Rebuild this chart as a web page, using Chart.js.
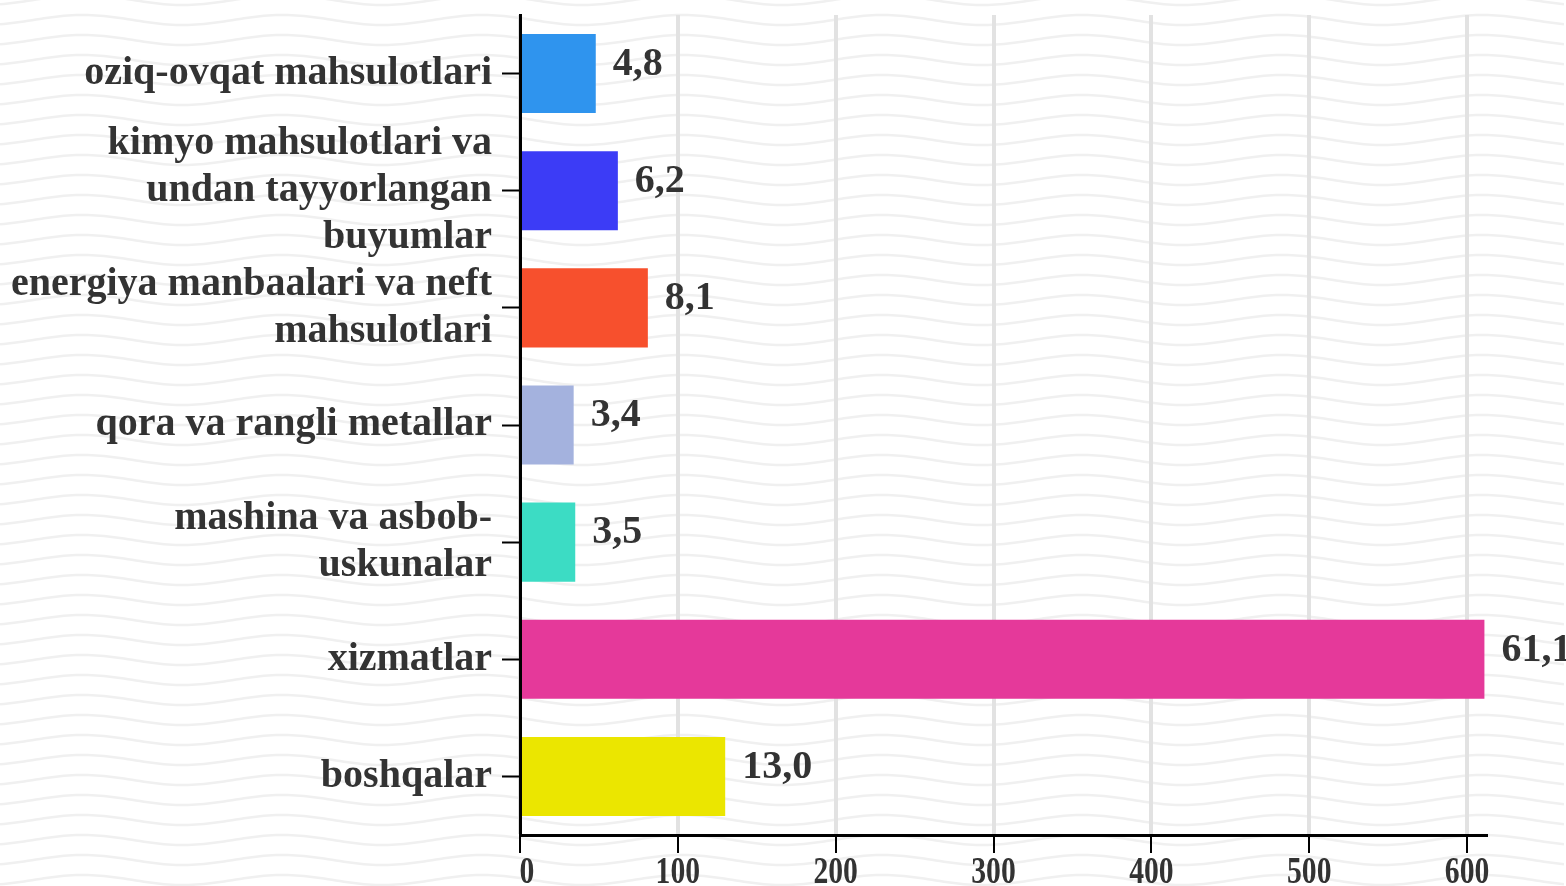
<!DOCTYPE html>
<html>
<head>
<meta charset="utf-8">
<script src="https://cdn.jsdelivr.net/npm/chart.js@4/dist/chart.umd.min.js"></script>
<style>
  html, body { margin: 0; padding: 0; background: #fff; }
  #wrap { width: 1566px; height: 886px; }
</style>
</head>
<body>
<div id="wrap"><canvas id="chart" width="1566" height="886"></canvas></div>
<script>
// --- Données ---
const categories = [
    'oziq-ovqat mahsulotlari',
    ['kimyo mahsulotlari va', 'undan tayyorlangan', 'buyumlar'],
    ['energiya manbaalari va neft', 'mahsulotlari'],
    'qora va rangli metallar',
    ['mashina va asbob-', 'uskunalar'],
    'xizmatlar',
    'boshqalar'
];
const values = [48, 62, 81, 34, 35, 611, 130];
const valueLabels = ['4,8', '6,2', '8,1', '3,4', '3,5', '61,1', '13,0'];
const barColors = ['#2f94ee', '#3c3cf6', '#f7502d', '#a4b2de', '#3cdcc4', '#e5399a', '#ebe600'];
const xTicks = [0, 100, 200, 300, 400, 500, 600];

const serif = '"Liberation Serif", "DejaVu Serif", serif';

// fond ondulé
const wavesBackground = {
    id: 'wavesBackground',
    beforeDraw(chart) {
        const ctx = chart.ctx;
        const w = chart.width, h = chart.height;
        ctx.save();
        ctx.fillStyle = '#ffffff';
        ctx.fillRect(0, 0, w, h);
        ctx.strokeStyle = '#f0f0f0';
        ctx.lineWidth = 2.5;
        for (let y0 = -20; y0 < h + 20; y0 += 20) {
            ctx.beginPath();
            for (let x = 0; x <= w; x += 4) {
                const y = y0 - 5 * Math.cos(2 * Math.PI * (x - 83) / 200);
                if (x === 0) ctx.moveTo(x, y); else ctx.lineTo(x, y);
            }
            ctx.stroke();
        }
        ctx.restore();
    }
};

// étiquettes de valeur à droite des barres + graduations X (police resserrée)
const barValueLabels = {
    id: 'barValueLabels',
    afterDatasetsDraw(chart) {
        const ctx = chart.ctx;
        const meta = chart.getDatasetMeta(0);
        ctx.save();
        ctx.font = 'bold 40px ' + serif;
        ctx.fillStyle = '#333333';
        ctx.textAlign = 'left';
        ctx.textBaseline = 'middle';
        meta.data.forEach((bar, i) => {
            ctx.fillText(valueLabels[i], bar.x + 17, bar.y - 9);
        });
        ctx.restore();
    },
    afterDraw(chart) {
        const ctx = chart.ctx;
        const xs = chart.scales.x;
        ctx.save();
        ctx.font = 'bold 38px ' + serif;
        ctx.fillStyle = '#333333';
        ctx.textAlign = 'center';
        ctx.textBaseline = 'alphabetic';
        xTicks.forEach(v => {
            const px = xs.getPixelForValue(v);
            ctx.save();
            ctx.translate(v === 0 ? px + 7 : px, 883);
            ctx.scale(0.78, 1);
            ctx.fillText(String(v), 0, 0);
            ctx.restore();
        });
        ctx.restore();
    }
};

new Chart(document.getElementById('chart'), {
    type: 'bar',
    data: {
        labels: categories,
        datasets: [{
            data: values,
            backgroundColor: barColors,
            borderWidth: 0,
            barPercentage: 0.675,
            categoryPercentage: 1
        }]
    },
    options: {
        indexAxis: 'y',
        responsive: false,
        animation: false,
        layout: { padding: { top: 15, right: 80, left: 0, bottom: 0 } },
        plugins: { legend: { display: false }, tooltip: { enabled: false } },
        scales: {
            x: {
                min: 0, max: 612,
                afterBuildTicks(scale) { scale.ticks = xTicks.map(v => ({ value: v })); },
                afterFit(scale) { scale.height = 51; },
                grid: { color: '#e2e2e2', lineWidth: 4, tickColor: '#000', tickWidth: 2, tickLength: 18 },
                border: { color: '#000', width: 3 },
                ticks: {
                    includeBounds: false,
                    padding: 2,
                    color: 'rgba(0,0,0,0)',
                    font: { family: serif, size: 26, weight: 'bold' }
                }
            },
            y: {
                afterFit(scale) {
                    scale.width = 520;
                    scale.paddingTop = 0;
                    scale.paddingBottom = 0;
                },
                grid: { offset: false, drawOnChartArea: false, tickColor: '#000', tickWidth: 2, tickLength: 18 },
                border: { color: '#000', width: 3 },
                ticks: {
                    autoSkip: false,
                    padding: 10,
                    color: '#333',
                    font: { family: serif, size: 40, weight: 'bold', lineHeight: 1.18 }
                }
            }
        }
    },
    plugins: [wavesBackground, barValueLabels]
});
</script>
</body>
</html>
